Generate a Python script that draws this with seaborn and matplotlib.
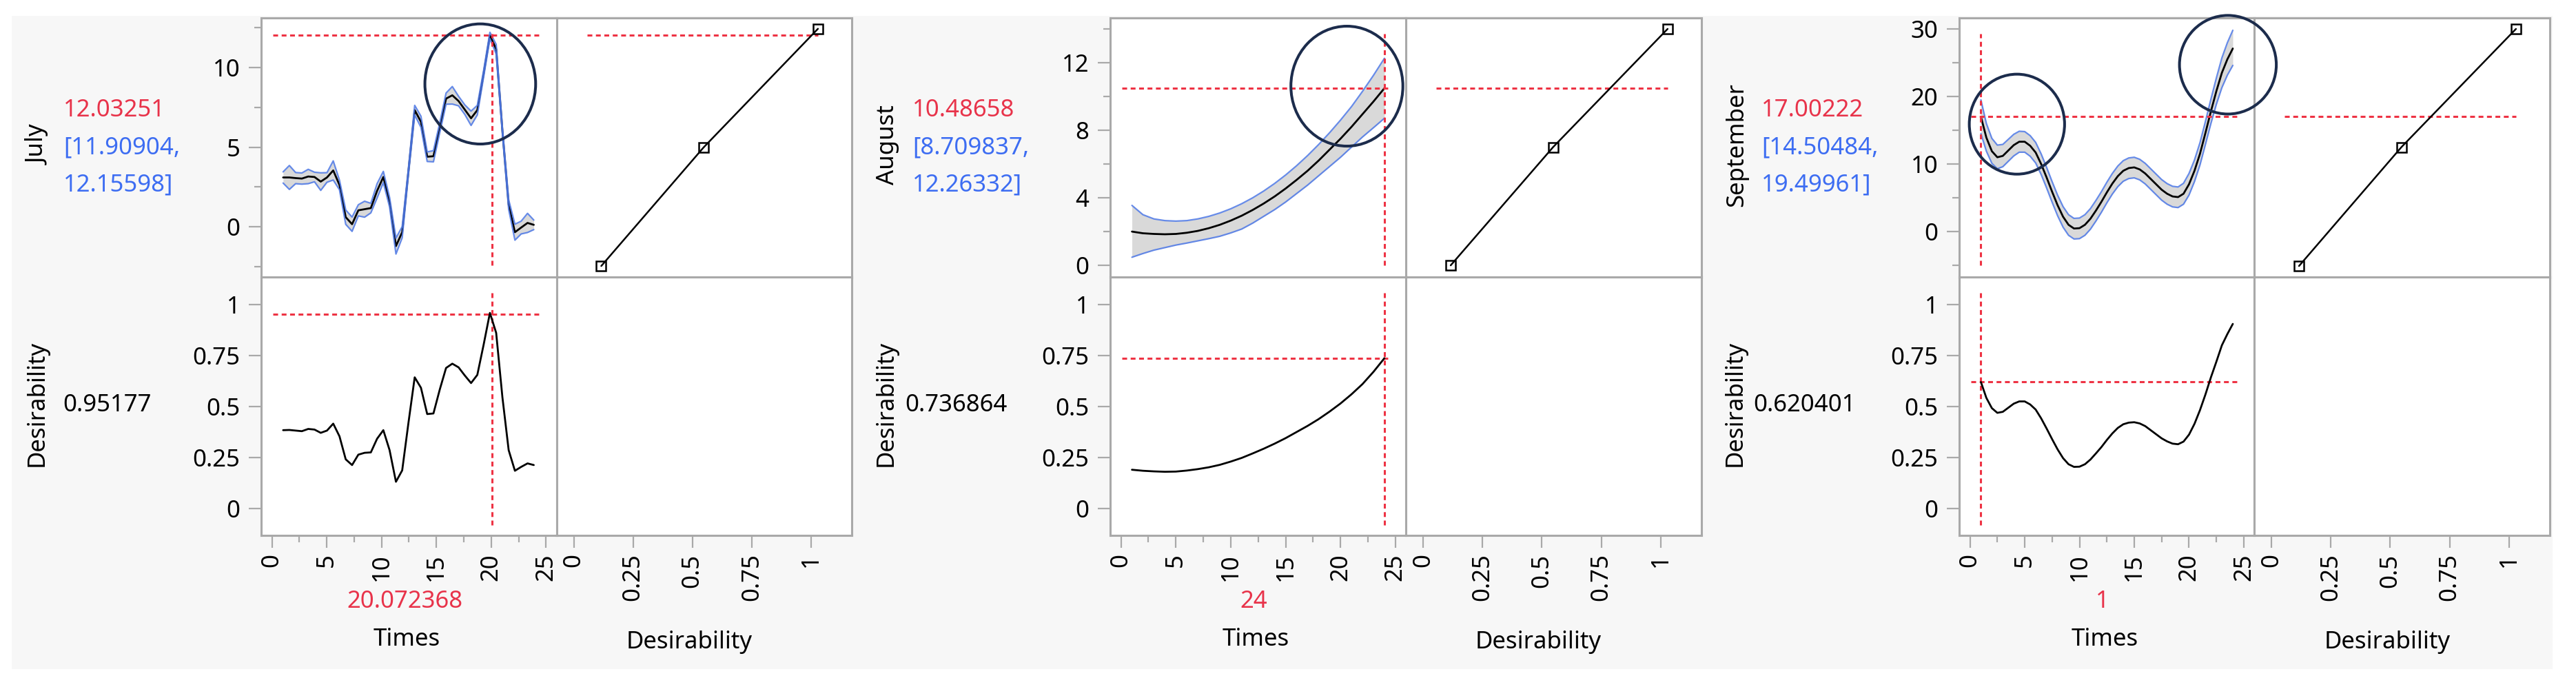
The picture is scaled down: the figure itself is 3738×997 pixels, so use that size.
import matplotlib
matplotlib.use("Agg")
import matplotlib.pyplot as plt
from matplotlib.patches import Ellipse, Rectangle
from matplotlib.ticker import FixedLocator
import numpy as np
import seaborn as sns

W, H = 3738, 997

july_times = [1.02, 1.59, 2.16, 2.73, 3.31, 3.88, 4.45, 5.02, 5.59, 6.16,
              6.73, 7.31, 7.88, 8.45, 9.02, 9.59, 10.16, 10.73, 11.31, 11.88,
              12.45, 13.02, 13.59, 14.16, 14.73, 15.31, 15.88, 16.45, 17.02, 17.59,
              18.16, 18.73, 19.31, 19.88, 20.45, 21.02, 21.59, 22.16, 22.73, 23.31,
              23.88]
july_resp = [3.10, 3.10, 3.06, 3.03, 3.16, 3.13, 2.84, 3.10, 3.54, 2.63,
             0.61, 0.17, 1.04, 1.11, 1.18, 2.26, 3.13, 1.55, -1.20, -0.33,
             3.49, 7.32, 6.59, 4.40, 4.43, 6.23, 8.04, 8.25, 7.89, 7.35,
             6.81, 7.32, 9.62, 12.0, 11.14, 6.02, 1.40, -0.33, -0.04, 0.25,
             0.13]
july_halfwidth = [0.35, 0.75, 0.35, 0.35, 0.45, 0.3, 0.55, 0.3, 0.6, 0.3,
                  0.45, 0.45, 0.35, 0.5, 0.3, 0.45, 0.35, 0.3, 0.5, 0.35,
                  0.2, 0.3, 0.35, 0.3, 0.35, 0.3, 0.35, 0.55, 0.3, 0.3,
                  0.45, 0.3, 0.2, 0.2, 0.3, 0.2, 0.3, 0.5, 0.4, 0.6,
                  0.3]
july_desir = [0.384, 0.385, 0.382, 0.379, 0.390, 0.387, 0.371, 0.382, 0.416, 0.354,
              0.241, 0.213, 0.264, 0.273, 0.275, 0.342, 0.384, 0.286, 0.131, 0.187,
              0.42, 0.643, 0.592, 0.463, 0.466, 0.584, 0.689, 0.71, 0.692, 0.652,
              0.615, 0.655, 0.804, 0.959, 0.861, 0.545, 0.286, 0.185, 0.204, 0.221,
              0.213]
july_handles = [-2.45, 4.98, 12.42]

aug_times = list(range(1, 25))
aug_resp = [2.0, 1.9, 1.86, 1.84, 1.86, 1.93, 2.04, 2.2, 2.4, 2.65, 2.94, 3.28,
            3.66, 4.08, 4.55, 5.06, 5.6, 6.2, 6.85, 7.5, 8.2, 8.95, 9.7, 10.49]
aug_upper = [3.55, 3.0, 2.75, 2.65, 2.62, 2.65, 2.75, 2.9, 3.1, 3.35, 3.65, 4.0,
             4.4, 4.85, 5.35, 5.9, 6.5, 7.15, 7.85, 8.6, 9.4, 10.3, 11.25, 12.26]
aug_lower = [0.48, 0.7, 0.9, 1.05, 1.2, 1.32, 1.45, 1.58, 1.72, 1.92, 2.15, 2.5,
             2.9, 3.3, 3.75, 4.25, 4.75, 5.3, 5.85, 6.4, 7.0, 7.6, 8.15, 8.71]
aug_desir = [0.19, 0.185, 0.182, 0.18, 0.181, 0.186, 0.193, 0.202, 0.214, 0.23, 0.248, 0.27,
             0.293, 0.318, 0.345, 0.375, 0.405, 0.438, 0.475, 0.515, 0.56, 0.61, 0.67, 0.737]
aug_handles = [0.0, 7.0, 14.0]

sep_times = [1, 1.5, 2, 2.5, 3, 3.5, 4, 4.5, 5, 5.5, 6, 6.5, 7, 7.5, 8, 8.5,
             9, 9.5, 10, 10.5, 11, 11.5, 12, 12.5, 13, 13.5, 14, 14.5, 15, 15.5, 16, 16.5,
             17, 17.5, 18, 18.5, 19, 19.5, 20, 20.5, 21, 21.5, 22, 22.5, 23, 23.5, 24]
sep_resp = [17.0, 13.9, 11.9, 11.0, 11.2, 12.0, 12.8, 13.3, 13.3, 12.7, 11.7, 10.0, 8.0, 5.9, 3.9, 2.2,
            1.0, 0.45, 0.5, 1.0, 1.9, 3.1, 4.4, 5.8, 7.1, 8.2, 9.0, 9.4, 9.5, 9.2, 8.6, 7.8,
            7.0, 6.2, 5.6, 5.2, 5.1, 5.6, 7.0, 9.0, 11.5, 14.6, 17.8, 20.8, 23.5, 25.5, 27.1]
sep_upper = [19.5, 16.0, 13.8, 12.8, 12.9, 13.65, 14.4, 14.85, 14.8, 14.2, 13.2, 11.5, 9.5, 7.4, 5.4, 3.7,
             2.5, 1.95, 2.0, 2.5, 3.4, 4.6, 5.9, 7.3, 8.6, 9.7, 10.5, 10.9, 11.0, 10.7, 10.1, 9.3,
             8.5, 7.7, 7.1, 6.7, 6.6, 7.15, 8.6, 10.6, 13.15, 16.3, 19.6, 22.75, 25.7, 27.95, 29.8]
sep_lower = [14.5, 11.9, 10.1, 9.3, 9.6, 10.4, 11.2, 11.75, 11.75, 11.15, 10.15, 8.45, 6.45, 4.35, 2.35, 0.65,
             -0.55, -1.1, -1.05, -0.55, 0.35, 1.55, 2.85, 4.25, 5.55, 6.65, 7.45, 7.85, 7.95, 7.65, 7.05, 6.25,
             5.45, 4.65, 4.05, 3.65, 3.55, 4.05, 5.4, 7.4, 9.85, 12.9, 16.0, 18.85, 21.3, 23.15, 24.6]
sep_desir = [0.620, 0.542, 0.492, 0.469, 0.474, 0.494, 0.514, 0.525, 0.525, 0.510, 0.485, 0.442, 0.392, 0.340, 0.290, 0.247,
             0.217, 0.204, 0.205, 0.217, 0.240, 0.270, 0.301, 0.336, 0.368, 0.395, 0.413, 0.421, 0.423, 0.417, 0.404, 0.384,
             0.364, 0.344, 0.329, 0.318, 0.315, 0.328, 0.362, 0.415, 0.482, 0.559, 0.643, 0.72, 0.80, 0.855, 0.905]
sep_handles = [-5.1, 12.5, 30.0]

handle_desir = [0.116, 0.547, 1.029]

months = ["July", "August", "September"]
current_time = [20.072368, 24, 1]
current_resp = [12.03251, 10.48658, 17.00222]
current_ci = [("[11.90904,", "12.15598]"), ("[8.709837,", "12.26332]"), ("[14.50484,", "19.49961]")]
current_desir = [0.95177, 0.736864, 0.620401]
setting_text = ["20.072368", "24", "1"]
value_text = ["12.03251", "10.48658", "17.00222"]
desir_text = ["0.95177", "0.736864", "0.620401"]

resp_ticks = [[0, 5, 10], [0, 4, 8, 12], [0, 10, 20, 30]]
resp_minor = [[-2.5, 2.5, 7.5, 12.5], [2, 6, 10, 14], [-5, 5, 15, 25]]
resp_lims = [(-3.14, 13.1), (-0.69, 14.65), (-6.73, 31.63)]
time_ticks = [0, 5, 10, 15, 20, 25]
time_minor = [2.5, 7.5, 12.5, 17.5, 22.5]
desir_ticks = [0, 0.25, 0.5, 0.75, 1]
desir_labels = ["0", "0.25", "0.5", "0.75", "1"]

# annotation circles: (time, response, width, height)
circles = [[(19.0, 8.96, 10.1, 7.53)],
           [(20.58, 10.61, 10.2, 7.1)],
           [(4.29, 15.9, 8.7, 14.8), (23.55, 24.7, 8.84, 14.6)]]

# ---------------- style ----------------
FRAME = "#a9a9a9"
RED = "#ee3344"
RED_TXT = "#e8334a"
BLUE_TXT = "#3d6df2"
CI_BLUE = "#4d78e6"
BAND = "#d9d9d9"
NAVY = "#1c2c4c"
DASH = (0, (2.3, 1.7))

sns.set_theme(style="white")
plt.rcParams["font.family"] = ["Noto Sans", "DejaVu Sans"]

fig = plt.figure(figsize=(W / 100, H / 100), dpi=100)
fig.patch.set_facecolor("white")
fig.patches.append(Rectangle((17 / W, 1 - 971 / H), (3704 - 17) / W, (971 - 23) / H,
                             transform=fig.transFigure, facecolor="#f7f7f7",
                             edgecolor="none", zorder=-10))

TOP, MIDY, BOT = 26, 402, 777
lefts = [379, 1611, 2843]
mids = [807.5, 2040, 3271]
rights = [1236, 2469, 3700]
TLIM = (-0.98, 25.95)
DLIM = (-0.0727, 1.1715)
YDLIM = (-0.132, 1.135)


def add_ax(l, r, t, b):
    ax = fig.add_axes([l / W, 1 - b / H, (r - l) / W, (b - t) / H])
    ax.set_facecolor("white")
    for s in ax.spines.values():
        s.set_visible(True)
        s.set_color(FRAME)
        s.set_linewidth(2.2)
    ax.tick_params(which="major", length=13, width=1.6, color=FRAME,
                   labelsize=25, labelcolor="black")
    ax.tick_params(which="minor", length=7, width=1.6, color=FRAME)
    ax.tick_params(axis="y", pad=9)
    ax.tick_params(axis="x", pad=6)
    ax.tick_params(left=False, bottom=False, labelleft=False, labelbottom=False)
    ax.tick_params(which="minor", left=False, bottom=False)
    return ax


def ftext(x, y, s, **kw):
    fig.text(x / W, 1 - y / H, s, fontsize=25, **kw)


series = [
    (july_times, july_resp,
     list(np.array(july_resp) - np.array(july_halfwidth)),
     list(np.array(july_resp) + np.array(july_halfwidth)), july_desir, july_handles),
    (aug_times, aug_resp, aug_lower, aug_upper, aug_desir, aug_handles),
    (sep_times, sep_resp, sep_lower, sep_upper, sep_desir, sep_handles),
]

for i, (times, resp, lower, upper, desir, handles) in enumerate(series):
    L, M, R = lefts[i], mids[i], rights[i]
    ax_r = add_ax(L, M, TOP, MIDY)
    ax_f = add_ax(M, R, TOP, MIDY)
    ax_d = add_ax(L, M, MIDY, BOT)
    ax_e = add_ax(M, R, MIDY, BOT)
    ax_r.set_zorder(3)  # circles may spill over the neighbour panel

    # response profile with confidence band
    ax_r.fill_between(times, lower, upper, color=BAND, lw=0, zorder=1)
    sns.lineplot(x=times, y=resp, ax=ax_r, color="black", lw=2.0,
                 estimator=None, sort=False, zorder=2)
    for band in (upper, lower):
        sns.lineplot(x=times, y=band, ax=ax_r, color=CI_BLUE, lw=1.6, alpha=0.85,
                     estimator=None, sort=False, zorder=3)
    ax_r.axhline(current_resp[i], xmin=0.04, xmax=0.949, color=RED, lw=2.2, ls=DASH, zorder=4)
    ax_r.axvline(current_time[i], ymin=0.045, ymax=0.939, color=RED, lw=2.2, ls=DASH, zorder=4)
    ax_r.set_xlim(TLIM)
    ax_r.set_ylim(resp_lims[i])
    ax_r.set_yticks(resp_ticks[i])
    ax_r.set_yticklabels([str(v) for v in resp_ticks[i]])
    ax_r.yaxis.set_minor_locator(FixedLocator(resp_minor[i]))
    ax_r.tick_params(left=True, labelleft=True)
    ax_r.tick_params(which="minor", left=True)
    for (cx, cy, w, h) in circles[i]:
        ax_r.add_patch(Ellipse((cx, cy), w, h, fill=False, edgecolor=NAVY,
                               lw=2.9, clip_on=False, zorder=10))

    # desirability function
    sns.lineplot(x=handle_desir, y=handles, ax=ax_f, color="black", lw=1.8,
                 marker="s", markersize=10, markerfacecolor="none",
                 markeredgecolor="black", markeredgewidth=1.8,
                 estimator=None, sort=False, zorder=3)
    ax_f.axhline(current_resp[i], xmin=0.103, xmax=0.886, color=RED, lw=2.2, ls=DASH, zorder=2)
    ax_f.set_xlim(DLIM)
    ax_f.set_ylim(resp_lims[i])

    # desirability profile
    sns.lineplot(x=times, y=desir, ax=ax_d, color="black", lw=2.0,
                 estimator=None, sort=False, zorder=3)
    ax_d.axhline(current_desir[i], xmin=0.04, xmax=0.949, color=RED, lw=2.2, ls=DASH, zorder=2)
    ax_d.axvline(current_time[i], ymin=0.04, ymax=0.939, color=RED, lw=2.2, ls=DASH, zorder=2)
    ax_d.set_xlim(TLIM)
    ax_d.set_ylim(YDLIM)
    ax_d.set_yticks(desir_ticks)
    ax_d.set_yticklabels(desir_labels)
    ax_d.set_xticks(time_ticks)
    ax_d.set_xticklabels([str(v) for v in time_ticks], rotation=90, va="top", ha="center")
    ax_d.xaxis.set_minor_locator(FixedLocator(time_minor))
    ax_d.tick_params(left=True, labelleft=True, bottom=True, labelbottom=True)
    ax_d.tick_params(which="minor", bottom=True)

    ax_e.set_xlim(DLIM)
    ax_e.set_ylim(YDLIM)
    ax_e.set_xticks(desir_ticks)
    ax_e.set_xticklabels(desir_labels, rotation=90, va="top", ha="center")
    ax_e.tick_params(bottom=True, labelbottom=True)

    for ax in (ax_r, ax_f, ax_d, ax_e):
        ax.set_xlabel("")
        ax.set_ylabel("")

    # side and bottom texts
    ftext(L - 323, 210, months[i], rotation=90, ha="center", va="center", color="black")
    ftext(L - 287, 160, value_text[i], ha="left", va="center", color=RED_TXT)
    ftext(L - 287, 214, current_ci[i][0], ha="left", va="center", color=BLUE_TXT)
    ftext(L - 287, 268, current_ci[i][1], ha="left", va="center", color=BLUE_TXT)
    ftext(L - 325, 585, "Desirability", rotation=90, ha="center", va="center", color="black")
    ftext(L - 224, 588, desir_text[i], ha="center", va="center", color="black")
    ftext(L + 208, 873, setting_text[i], ha="center", va="center", color=RED_TXT)
    ftext(L + 211, 928, "Times", ha="center", va="center", color="black")
    ftext(L + 621, 932, "Desirability", ha="center", va="center", color="black")

fig.savefig("out.png", dpi=100, facecolor="white")
